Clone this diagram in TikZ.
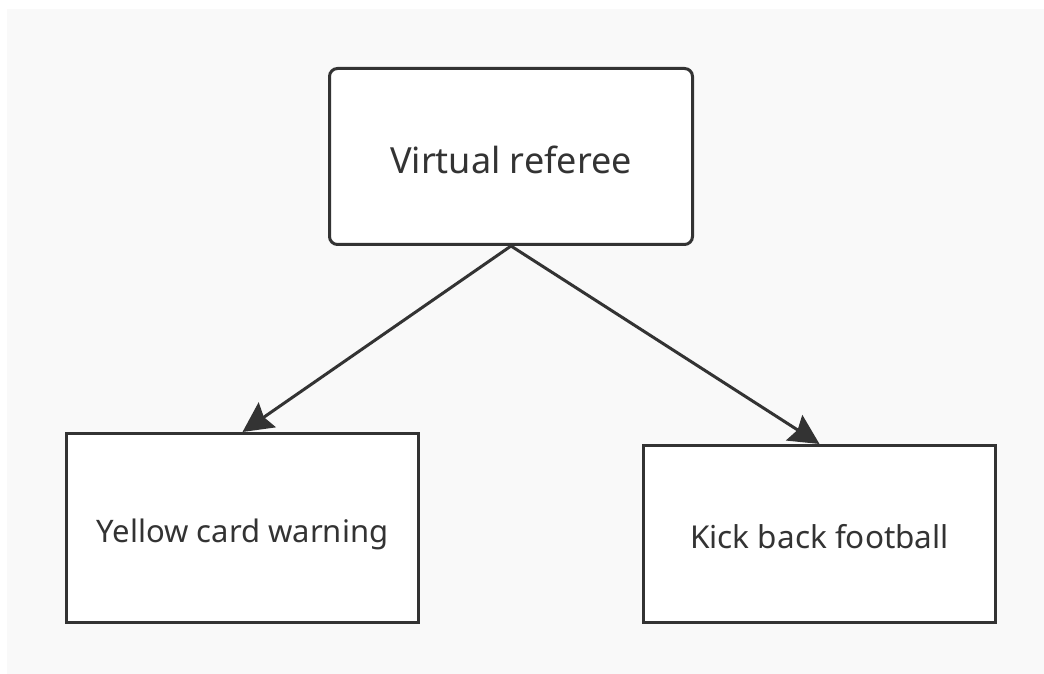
\documentclass[tikz,border=0pt]{standalone}
\usepackage{fontspec}
\setmainfont{Noto Sans}
\usetikzlibrary{arrows.meta}
\definecolor{ink}{HTML}{333333}
\definecolor{bg}{HTML}{F9F9F9}
\tikzset{
  box/.style={draw=ink, line width=3pt, fill=white, text=ink, inner sep=0pt, anchor=center, text depth=0pt},
  conn/.style={draw=ink, line width=3pt, -{Stealth[length=30pt,width=30pt,inset=4pt]}},
}
\begin{document}
\begin{tikzpicture}[x=1pt,y=1pt]
\useasboundingbox (0,0) rectangle (1044,674);
\fill[white] (0,0) rectangle (1044,674);
\fill[bg] (7,0) rectangle (1044,665);
\node[box, rounded corners=8pt, minimum width=363pt, minimum height=176pt, text height=35pt, font=\fontsize{36}{42}\selectfont] (top) at (511,517.5) {Virtual referee};
\node[box, minimum width=352pt, minimum height=189pt, text height=30pt, font=\fontsize{31}{37}\selectfont] (left) at (242.5,146) {Yellow card warning};
\node[box, minimum width=352pt, minimum height=177pt, text height=30pt, font=\fontsize{31.5}{37}\selectfont] (right) at (819.5,140) {Kick back football};
\draw[conn] (top.south) -- (left.north);
\draw[conn] (top.south) -- (right.north);
\end{tikzpicture}
\end{document}
